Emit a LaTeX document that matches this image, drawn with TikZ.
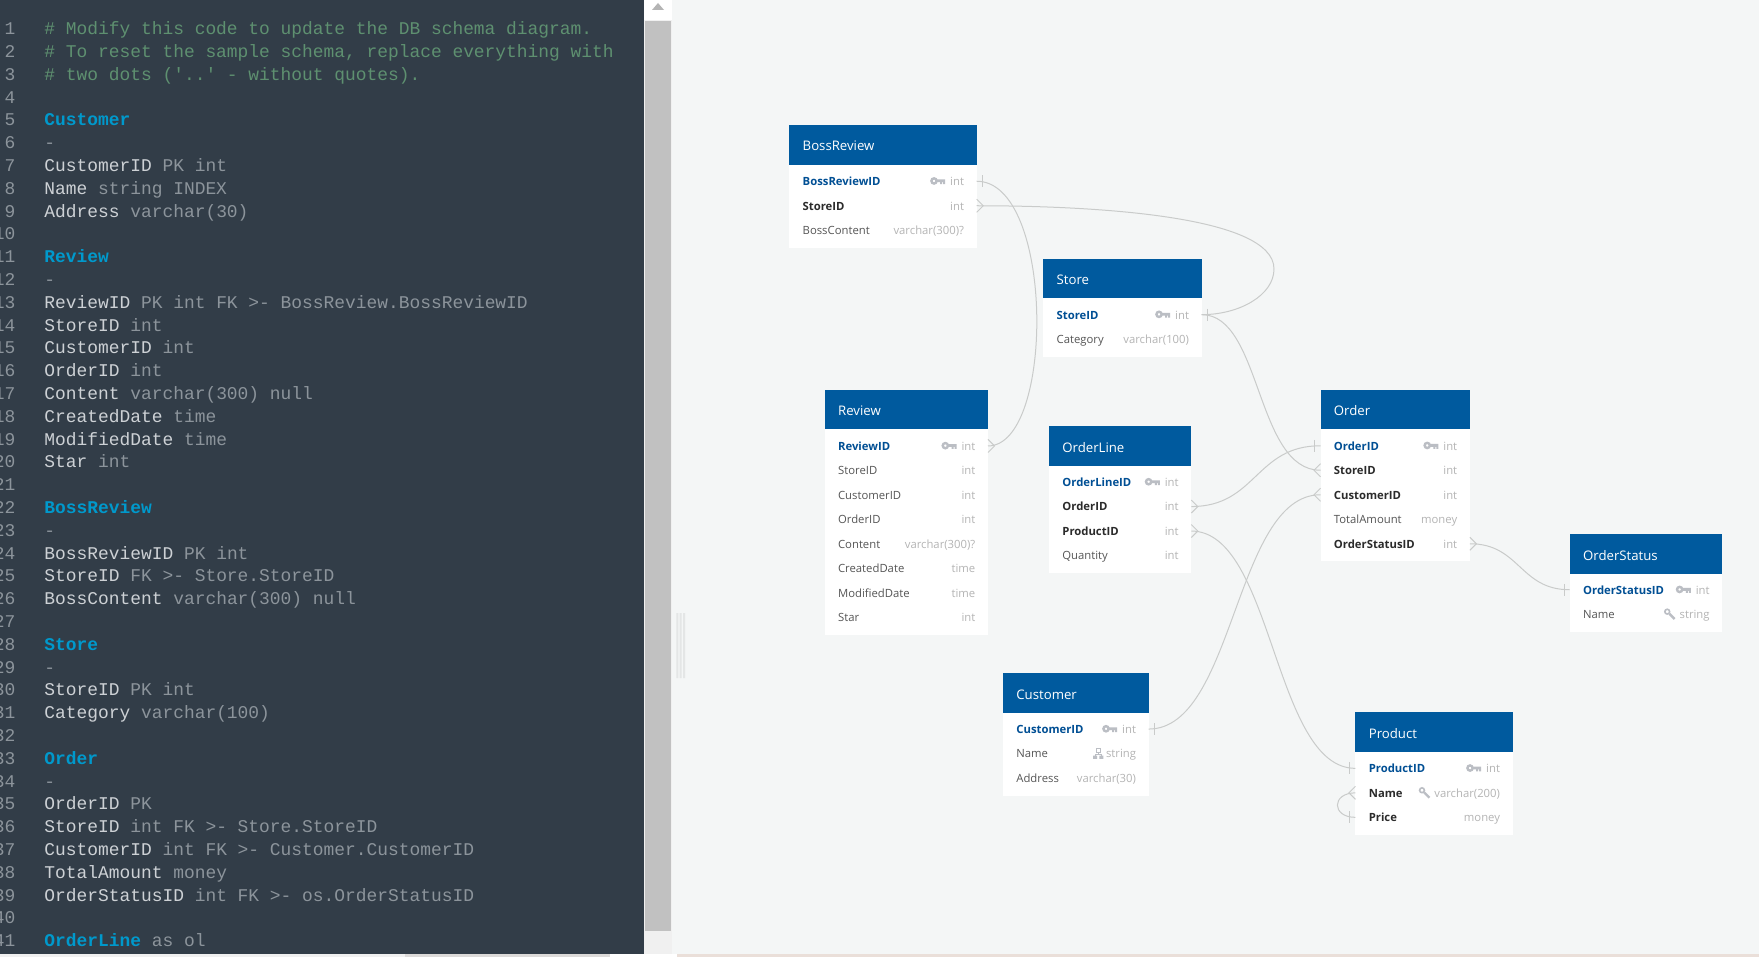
\documentclass[tikz,border=0pt]{standalone}
\usepackage{fontspec}
\setmainfont{Open Sans}
\setmonofont{Liberation Mono}
\usetikzlibrary{positioning}

\definecolor{canvasbg}{HTML}{F4F6F6}
\definecolor{panelbg}{HTML}{323D48}
\definecolor{trackgrey}{HTML}{F0F0F0}
\definecolor{thumbgrey}{HTML}{C1C1C1}
\definecolor{gripgrey}{HTML}{E4E6E6}
\definecolor{stripgrey}{HTML}{DCDAD9}
\definecolor{strippink}{HTML}{EADFD9}
\definecolor{headblue}{HTML}{005A9E}
\definecolor{keyblue}{HTML}{004F94}
\definecolor{fkblack}{HTML}{2B2B2B}
\definecolor{fieldgrey}{HTML}{555555}
\definecolor{typegrey}{HTML}{B4B4B4}
\definecolor{icongrey}{HTML}{BBBEC4}
\definecolor{relgrey}{HTML}{C9CBCA}
\definecolor{cmtgreen}{HTML}{5E9070}
\definecolor{tblteal}{HTML}{0099CC}
\definecolor{codelight}{HTML}{CDD1D5}
\definecolor{codedim}{HTML}{8C949B}

\newcommand{\cmt}[1]{\textcolor{cmtgreen}{#1}}
\newcommand{\tblname}[1]{\textcolor{tblteal}{\bfseries #1}}
\newcommand{\dimword}[1]{\textcolor{codedim}{#1}}

\tikzset{
	tblhead/.style={rectangle, fill=headblue, text=white, anchor=north west, inner xsep=13.4pt, inner ysep=0pt, outer sep=0pt, minimum height=39.4pt, text width=#1-26.8pt, align=left, text height=12pt, text depth=0pt, font=\fontsize{13.2}{16}\selectfont},
	tblbody/.style={rectangle, fill=white, inner sep=0pt, outer sep=0pt, minimum width=#1},
	fieldrow/.style={rectangle, inner xsep=13.4pt, inner ysep=0pt, outer sep=0pt, minimum height=24.5pt, text width=#1-26.8pt, align=left, text height=10.4pt, text depth=1.6pt, text=fieldgrey, font=\fontsize{11.3}{14}\selectfont},
	pkrow/.style={fieldrow=#1, text=keyblue, font=\fontsize{11.3}{14}\selectfont\bfseries},
	fkrow/.style={fieldrow=#1, text=fkblack, font=\fontsize{11.3}{14}\selectfont\bfseries},
	typetxt/.style={inner sep=0pt, outer sep=0pt, text height=10.4pt, text depth=1.6pt, text=typegrey, font=\fontsize{11.3}{14}\selectfont},
	relline/.style={draw=relgrey, line width=1pt},
	linenum/.style={anchor=east, inner sep=0pt, text height=13.2pt, text depth=1.8pt, text=codedim, font=\fontsize{17.9}{20}\ttfamily},
	codeline/.style={inner sep=0pt, text height=13.2pt, text depth=1.8pt, text=codelight, font=\fontsize{17.9}{20}\ttfamily},
	onetick/.pic={\draw[relline] (5.6,-6) -- (5.6,6);},
	crowfoot/.pic={\draw[relline] (0,-6.5) -- (6.5,0) -- (0,6.5);},
	keyicon/.pic={
		\draw[icongrey, line width=2.4pt] (-16.2,-0.3) circle (2.6);
		\fill[icongrey] (-14,-1.8) rectangle (-5,1) (-10,0) rectangle (-8,3) (-7,0) rectangle (-5,3);
	},
	lensicon/.pic={
		\draw[icongrey, line width=1.6pt] (-12.4,-2.6) circle (2.4);
		\draw[icongrey, line width=2.4pt] (-10.2,-0.4) -- (-5,4.8);
	},
	treeicon/.pic={
		\draw[icongrey, line width=.8pt] (-9.6,-5) rectangle (-5.6,-1.2) (-7.6,-1.2) -- (-7.6,1) (-10.6,2) -- (-10.6,1) -- (-4.6,1) -- (-4.6,2);
		\fill[icongrey] (-12.8,2) rectangle (-8.8,5.2) (-6.6,2) rectangle (-2.6,5.2);
	}
}

\begin{document}
\begin{tikzpicture}[x=1pt, y=-1pt]
	\useasboundingbox (0,0) rectangle (1759,957);
	\fill[canvasbg] (0,0) rectangle (1759,957);
	\fill[trackgrey] (643,0) rectangle (672,957);
	\fill[white] (643,0) rectangle (672,20);
	\fill[thumbgrey] (645,21) rectangle (671,931);
	\fill[typegrey] (652,10) -- (658,3) -- (664,10) -- cycle;
	\fill[panelbg] (0,0) rectangle (643.5,954);
	\fill[trackgrey] (0,954) rectangle (405,957);
	\fill[stripgrey] (405,954) rectangle (610,957);
	\fill[white] (610,954) rectangle (677,957);
	\fill[strippink] (677,954) rectangle (1759,957);
	\fill[gripgrey] (676.3,613) rectangle (678.3,678) (679.7,613) rectangle (681.7,678) (683,613) rectangle (685,678);

	% code pane
	\foreach \n in {1,...,41}
		\node[linenum] (num\n) at (15.6,{29+(\n-1)*22.8}) {\n};
	\node[codeline, right=28.6pt of num1.east] (code1) {\cmt{\# Modify this code to update the DB schema diagram.}};
	\node[codeline, right=28.6pt of num2.east] (code2) {\cmt{\# To reset the sample schema, replace everything with}};
	\node[codeline, right=28.6pt of num3.east] (code3) {\cmt{\# two dots ('..' - without quotes).}};
	\node[codeline, right=28.6pt of num5.east] (code5) {\tblname{Customer}};
	\node[codeline, right=28.6pt of num6.east] (code6) {\dimword{-}};
	\node[codeline, right=28.6pt of num7.east] (code7) {CustomerID \dimword{PK int}};
	\node[codeline, right=28.6pt of num8.east] (code8) {Name \dimword{string INDEX}};
	\node[codeline, right=28.6pt of num9.east] (code9) {Address \dimword{varchar(30)}};
	\node[codeline, right=28.6pt of num11.east] (code11) {\tblname{Review}};
	\node[codeline, right=28.6pt of num12.east] (code12) {\dimword{-}};
	\node[codeline, right=28.6pt of num13.east] (code13) {ReviewID \dimword{PK int FK >- BossReview.BossReviewID}};
	\node[codeline, right=28.6pt of num14.east] (code14) {StoreID \dimword{int}};
	\node[codeline, right=28.6pt of num15.east] (code15) {CustomerID \dimword{int}};
	\node[codeline, right=28.6pt of num16.east] (code16) {OrderID \dimword{int}};
	\node[codeline, right=28.6pt of num17.east] (code17) {Content \dimword{varchar(300) null}};
	\node[codeline, right=28.6pt of num18.east] (code18) {CreatedDate \dimword{time}};
	\node[codeline, right=28.6pt of num19.east] (code19) {ModifiedDate \dimword{time}};
	\node[codeline, right=28.6pt of num20.east] (code20) {Star \dimword{int}};
	\node[codeline, right=28.6pt of num22.east] (code22) {\tblname{BossReview}};
	\node[codeline, right=28.6pt of num23.east] (code23) {\dimword{-}};
	\node[codeline, right=28.6pt of num24.east] (code24) {BossReviewID \dimword{PK int}};
	\node[codeline, right=28.6pt of num25.east] (code25) {StoreID \dimword{FK >- Store.StoreID}};
	\node[codeline, right=28.6pt of num26.east] (code26) {BossContent \dimword{varchar(300) null}};
	\node[codeline, right=28.6pt of num28.east] (code28) {\tblname{Store}};
	\node[codeline, right=28.6pt of num29.east] (code29) {\dimword{-}};
	\node[codeline, right=28.6pt of num30.east] (code30) {StoreID \dimword{PK int}};
	\node[codeline, right=28.6pt of num31.east] (code31) {Category \dimword{varchar(100)}};
	\node[codeline, right=28.6pt of num33.east] (code33) {\tblname{Order}};
	\node[codeline, right=28.6pt of num34.east] (code34) {\dimword{-}};
	\node[codeline, right=28.6pt of num35.east] (code35) {OrderID \dimword{PK}};
	\node[codeline, right=28.6pt of num36.east] (code36) {StoreID \dimword{int FK >- Store.StoreID}};
	\node[codeline, right=28.6pt of num37.east] (code37) {CustomerID \dimword{int FK >- Customer.CustomerID}};
	\node[codeline, right=28.6pt of num38.east] (code38) {TotalAmount \dimword{money}};
	\node[codeline, right=28.6pt of num39.east] (code39) {OrderStatusID \dimword{int FK >- os.OrderStatusID}};
	\node[codeline, right=28.6pt of num41.east] (code41) {\tblname{OrderLine} \dimword{as ol}};

	% BossReview
	\node[tblhead=187.4pt] (br) at (789.3,125.3) {BossReview};
	\node[tblbody=187.4pt, minimum height=83pt, below=0pt of br] (brbody) {};
	\node[pkrow=187.4pt, below=4.3pt of brbody.north] (brID) {BossReviewID};
	\node[fkrow=187.4pt, below=0pt of brID] (brStore) {StoreID};
	\node[fieldrow=187.4pt, below=0pt of brStore] (brContent) {BossContent};
	\node[typetxt, left=12.7pt of brID.east] (brIDt) {int};
	\node[typetxt, left=12.7pt of brStore.east] (brStoret) {int};
	\node[typetxt, left=12.7pt of brContent.east] (brContentt) {varchar(300)?};
	\pic at (brIDt.west) {keyicon};

	% Store
	\node[tblhead=158.4pt] (st) at (1043.3,258.7) {Store};
	\node[tblbody=158.4pt, minimum height=59pt, below=0pt of st] (stbody) {};
	\node[pkrow=158.4pt, below=4.3pt of stbody.north] (stID) {StoreID};
	\node[fieldrow=158.4pt, below=0pt of stID] (stCategory) {Category};
	\node[typetxt, left=12.7pt of stID.east] (stIDt) {int};
	\node[typetxt, left=12.7pt of stCategory.east] (stCategoryt) {varchar(100)};
	\pic at (stIDt.west) {keyicon};

	% Review
	\node[tblhead=163.3pt] (rv) at (824.7,390) {Review};
	\node[tblbody=163.3pt, minimum height=206pt, below=0pt of rv] (rvbody) {};
	\node[pkrow=163.3pt, below=4.3pt of rvbody.north] (rvID) {ReviewID};
	\node[fieldrow=163.3pt, below=0pt of rvID] (rvStore) {StoreID};
	\node[fieldrow=163.3pt, below=0pt of rvStore] (rvCustomer) {CustomerID};
	\node[fieldrow=163.3pt, below=0pt of rvCustomer] (rvOrder) {OrderID};
	\node[fieldrow=163.3pt, below=0pt of rvOrder] (rvContent) {Content};
	\node[fieldrow=163.3pt, below=0pt of rvContent] (rvCreated) {CreatedDate};
	\node[fieldrow=163.3pt, below=0pt of rvCreated] (rvModified) {ModifiedDate};
	\node[fieldrow=163.3pt, below=0pt of rvModified] (rvStar) {Star};
	\node[typetxt, left=12.7pt of rvID.east] (rvIDt) {int};
	\node[typetxt, left=12.7pt of rvStore.east] (rvStoret) {int};
	\node[typetxt, left=12.7pt of rvCustomer.east] (rvCustomert) {int};
	\node[typetxt, left=12.7pt of rvOrder.east] (rvOrdert) {int};
	\node[typetxt, left=12.7pt of rvContent.east] (rvContentt) {varchar(300)?};
	\node[typetxt, left=12.7pt of rvCreated.east] (rvCreatedt) {time};
	\node[typetxt, left=12.7pt of rvModified.east] (rvModifiedt) {time};
	\node[typetxt, left=12.7pt of rvStar.east] (rvStart) {int};
	\pic at (rvIDt.west) {keyicon};

	% OrderLine
	\node[tblhead=142.3pt] (ol) at (1049,426.3) {OrderLine};
	\node[tblbody=142.3pt, minimum height=107.6pt, below=0pt of ol] (olbody) {};
	\node[pkrow=142.3pt, below=4.1pt of olbody.north] (olID) {OrderLineID};
	\node[fkrow=142.3pt, below=0pt of olID] (olOrder) {OrderID};
	\node[fkrow=142.3pt, below=0pt of olOrder] (olProduct) {ProductID};
	\node[fieldrow=142.3pt, below=0pt of olProduct] (olQuantity) {Quantity};
	\node[typetxt, left=12.7pt of olID.east] (olIDt) {int};
	\node[typetxt, left=12.7pt of olOrder.east] (olOrdert) {int};
	\node[typetxt, left=12.7pt of olProduct.east] (olProductt) {int};
	\node[typetxt, left=12.7pt of olQuantity.east] (olQuantityt) {int};
	\pic at (olIDt.west) {keyicon};

	% Order
	\node[tblhead=149.4pt] (od) at (1320.5,390) {Order};
	\node[tblbody=149.4pt, minimum height=132pt, below=0pt of od] (odbody) {};
	\node[pkrow=149.4pt, below=4.1pt of odbody.north] (odID) {OrderID};
	\node[fkrow=149.4pt, below=0pt of odID] (odStore) {StoreID};
	\node[fkrow=149.4pt, below=0pt of odStore] (odCustomer) {CustomerID};
	\node[fieldrow=149.4pt, below=0pt of odCustomer] (odTotal) {TotalAmount};
	\node[fkrow=149.4pt, below=0pt of odTotal] (odStatus) {OrderStatusID};
	\node[typetxt, left=12.7pt of odID.east] (odIDt) {int};
	\node[typetxt, left=12.7pt of odStore.east] (odStoret) {int};
	\node[typetxt, left=12.7pt of odCustomer.east] (odCustomert) {int};
	\node[typetxt, left=12.7pt of odTotal.east] (odTotalt) {money};
	\node[typetxt, left=12.7pt of odStatus.east] (odStatust) {int};
	\pic at (odIDt.west) {keyicon};

	% OrderStatus
	\node[tblhead=152.6pt] (os) at (1569.7,534.3) {OrderStatus};
	\node[tblbody=152.6pt, minimum height=58.3pt, below=0pt of os] (osbody) {};
	\node[pkrow=152.6pt, below=3.8pt of osbody.north] (osID) {OrderStatusID};
	\node[fieldrow=152.6pt, below=0pt of osID] (osName) {Name};
	\node[typetxt, left=12.7pt of osID.east] (osIDt) {int};
	\node[typetxt, left=12.7pt of osName.east] (osNamet) {string};
	\pic at (osIDt.west) {keyicon};
	\pic at (osNamet.west) {lensicon};

	% Customer
	\node[tblhead=145.7pt] (cu) at (1003,673.3) {Customer};
	\node[tblbody=145.7pt, minimum height=83pt, below=0pt of cu] (cubody) {};
	\node[pkrow=145.7pt, below=4.1pt of cubody.north] (cuID) {CustomerID};
	\node[fieldrow=145.7pt, below=0pt of cuID] (cuName) {Name};
	\node[fieldrow=145.7pt, below=0pt of cuName] (cuAddress) {Address};
	\node[typetxt, left=12.7pt of cuID.east] (cuIDt) {int};
	\node[typetxt, left=12.7pt of cuName.east] (cuNamet) {string};
	\node[typetxt, left=12.7pt of cuAddress.east] (cuAddresst) {varchar(30)};
	\pic at (cuIDt.west) {keyicon};
	\pic at (cuNamet.west) {treeicon};

	% Product
	\node[tblhead=157.3pt] (pd) at (1355.4,712.3) {Product};
	\node[tblbody=157.3pt, minimum height=83.4pt, below=0pt of pd] (pdbody) {};
	\node[pkrow=157.3pt, below=4.4pt of pdbody.north] (pdID) {ProductID};
	\node[fkrow=157.3pt, below=0pt of pdID] (pdName) {Name};
	\node[fkrow=157.3pt, below=0pt of pdName] (pdPrice) {Price};
	\node[typetxt, left=12.7pt of pdID.east] (pdIDt) {int};
	\node[typetxt, left=12.7pt of pdName.east] (pdNamet) {varchar(200)};
	\node[typetxt, left=12.7pt of pdPrice.east] (pdPricet) {money};
	\pic at (pdIDt.west) {keyicon};
	\pic at (pdNamet.west) {lensicon};

	% relations
	\coordinate (loopmid) at (1274,269);
	\draw[relline] (brID.east) to[out=0, in=0, out distance=78pt, in distance=67pt] (rvID.east);
	\draw[relline] (brStore.east) to[out=0, in=90, out distance=113pt, in distance=54pt] (loopmid) to[out=-90, in=0, out distance=26pt, in distance=38pt] (stID.east);
	\draw[relline] (stID.east) to[out=0, in=180, out distance=60pt, in distance=65pt] (odStore.west);
	\draw[relline] (olOrder.east) to[out=0, in=180, out distance=65pt, in distance=65pt] (odID.west);
	\draw[relline] (olProduct.east) to[out=0, in=180, out distance=82pt, in distance=82pt] (pdID.west);
	\draw[relline] (cuID.east) to[out=0, in=180, out distance=86pt, in distance=86pt] (odCustomer.west);
	\draw[relline] (odStatus.east) to[out=0, in=180, out distance=50pt, in distance=50pt] (osID.west);
	\draw[relline] (pdName.west) to[out=180, in=180, distance=24pt] (pdPrice.west);

	\pic at (brID.east) {onetick};
	\pic at (brStore.east) {crowfoot};
	\pic at (rvID.east) {crowfoot};
	\pic at (stID.east) {onetick};
	\pic[xscale=-1] at (odStore.west) {crowfoot};
	\pic at (olOrder.east) {crowfoot};
	\pic[xscale=-1] at (odID.west) {onetick};
	\pic at (olProduct.east) {crowfoot};
	\pic[xscale=-1] at (pdID.west) {onetick};
	\pic at (cuID.east) {onetick};
	\pic[xscale=-1] at (odCustomer.west) {crowfoot};
	\pic at (odStatus.east) {crowfoot};
	\pic[xscale=-1] at (osID.west) {onetick};
	\pic[xscale=-1] at (pdName.west) {crowfoot};
	\pic[xscale=-1] at (pdPrice.west) {onetick};
\end{tikzpicture}
\end{document}
